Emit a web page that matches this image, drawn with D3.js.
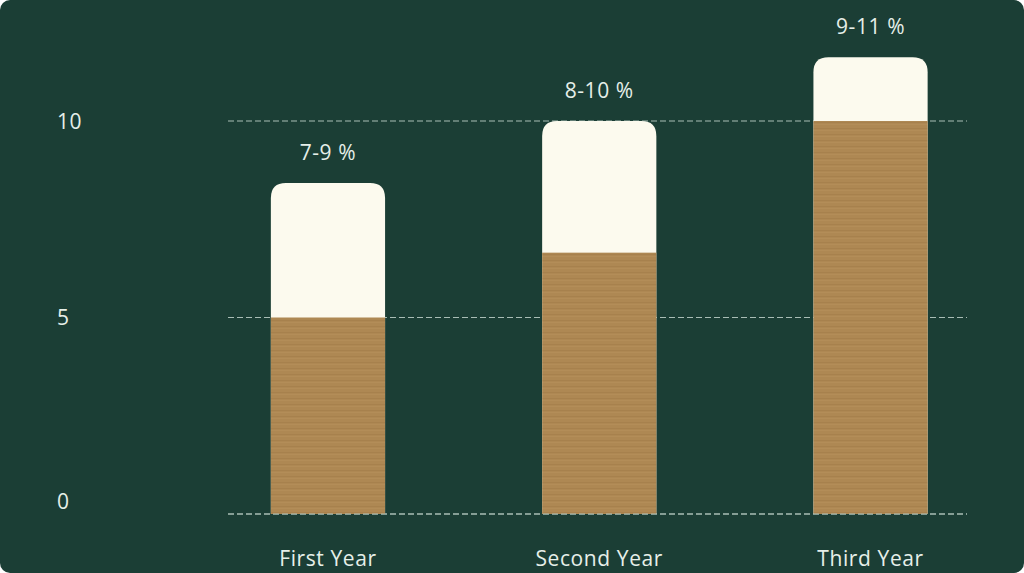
<!DOCTYPE html>
<html>
<head>
<meta charset="utf-8">
<script src="https://cdn.jsdelivr.net/npm/d3@7"></script>
<style>
  html, body { margin: 0; padding: 0; background: #ffffff; }
  svg { display: block; font-family: "Open Sans", "Noto Sans", sans-serif; }
</style>
</head>
<body>
<script>
// Chart data
var categories = ["First Year", "Second Year", "Third Year"];
var lowValues = [5, 6.65, 10];       // brown part (lower end of range)
var highValues = [8.42, 10, 11.62];  // cream top (upper end of range)
var rangeLabels = ["7-9 %", "8-10 %", "9-11 %"];
var yTicks = [0, 5, 10];

var width = 1024,
    height = 573;

var svg = d3.select("body")
    .append("svg")
    .attr("width", width)
    .attr("height", height);

// brown texture: faint horizontal streaks
var defs = svg.append("defs");
var pat = defs.append("pattern")
    .attr("id", "woodStripe")
    .attr("patternUnits", "userSpaceOnUse")
    .attr("width", 120)
    .attr("height", 6);
pat.append("rect").attr("width", 120).attr("height", 6).attr("fill", "#ae8853");
pat.append("rect").attr("y", 2).attr("width", 120).attr("height", 1).attr("fill", "#a7814d");
pat.append("rect").attr("y", 4).attr("width", 120).attr("height", 1).attr("fill", "#b38d58");

// background card
svg.append("rect")
    .attr("width", width)
    .attr("height", height)
    .attr("rx", 10)
    .attr("fill", "#1b3e35");

var x = d3.scaleBand()
    .domain(categories)
    .range([228, 970.5])
    .paddingInner(0.579)
    .paddingOuter(0.158);

var y = d3.scaleLinear()
    .domain([0, 10])
    .range([514, 121]);

var gridX1 = 228,
    gridX2 = 967;

// dashed grid lines
svg.append("g")
    .selectAll("line")
    .data(yTicks)
    .enter()
    .append("line")
    .attr("x1", gridX1)
    .attr("x2", gridX2)
    .attr("y1", function(d) { return y(d); })
    .attr("y2", function(d) { return y(d); })
    .attr("stroke", "#a9bdb5")
    .attr("stroke-width", 1.2)
    .attr("stroke-dasharray", "6,3");

// y tick labels (the 0 sits a bit above its line in the original)
svg.append("g")
    .selectAll("text")
    .data(yTicks)
    .enter()
    .append("text")
    .attr("x", 57)
    .attr("y", function(d) { return d === 0 ? y(d) - 13 : y(d); })
    .attr("dy", "0.36em")
    .attr("fill", "#e6efe9")
    .attr("font-size", 21)
    .attr("letter-spacing", 0.5)
    .text(function(d) { return d; });

// cream bar with rounded top corners
var r = 15;
function topRounded(d, i) {
    var x0 = x(categories[i]),
        w = x.bandwidth(),
        yt = y(d),
        yb = y(0);
    return "M" + x0 + "," + yb +
        "V" + (yt + r) +
        "Q" + x0 + "," + yt + " " + (x0 + r) + "," + yt +
        "H" + (x0 + w - r) +
        "Q" + (x0 + w) + "," + yt + " " + (x0 + w) + "," + (yt + r) +
        "V" + yb + "Z";
}

svg.append("g")
    .selectAll("path")
    .data(highValues)
    .enter()
    .append("path")
    .attr("d", topRounded)
    .attr("fill", "#fcfaee");

// brown lower part
svg.append("g")
    .selectAll("rect")
    .data(lowValues)
    .enter()
    .append("rect")
    .attr("x", function(d, i) { return x(categories[i]); })
    .attr("width", x.bandwidth())
    .attr("y", function(d) { return y(d); })
    .attr("height", function(d) { return y(0) - y(d); })
    .attr("fill", "url(#woodStripe)");

// bottom grid line shows over the bars
svg.append("line")
    .attr("x1", gridX1)
    .attr("x2", gridX2)
    .attr("y1", y(0))
    .attr("y2", y(0))
    .attr("stroke", "#a9bdb5")
    .attr("stroke-width", 1.2)
    .attr("stroke-dasharray", "6,3");

// range labels above bars
svg.append("g")
    .selectAll("text")
    .data(highValues)
    .enter()
    .append("text")
    .attr("x", function(d, i) { return x(categories[i]) + x.bandwidth() / 2; })
    .attr("y", function(d) { return y(d) - 23; })
    .attr("text-anchor", "middle")
    .attr("fill", "#e6efe9")
    .attr("font-size", 21)
    .attr("letter-spacing", 0.6)
    .text(function(d, i) { return rangeLabels[i]; });

// category labels
svg.append("g")
    .selectAll("text")
    .data(categories)
    .enter()
    .append("text")
    .attr("x", function(d) { return x(d) + x.bandwidth() / 2; })
    .attr("y", 566)
    .attr("text-anchor", "middle")
    .attr("fill", "#e6efe9")
    .attr("font-size", 21)
    .attr("letter-spacing", 0.6)
    .text(function(d) { return d; });
</script>
</body>
</html>
